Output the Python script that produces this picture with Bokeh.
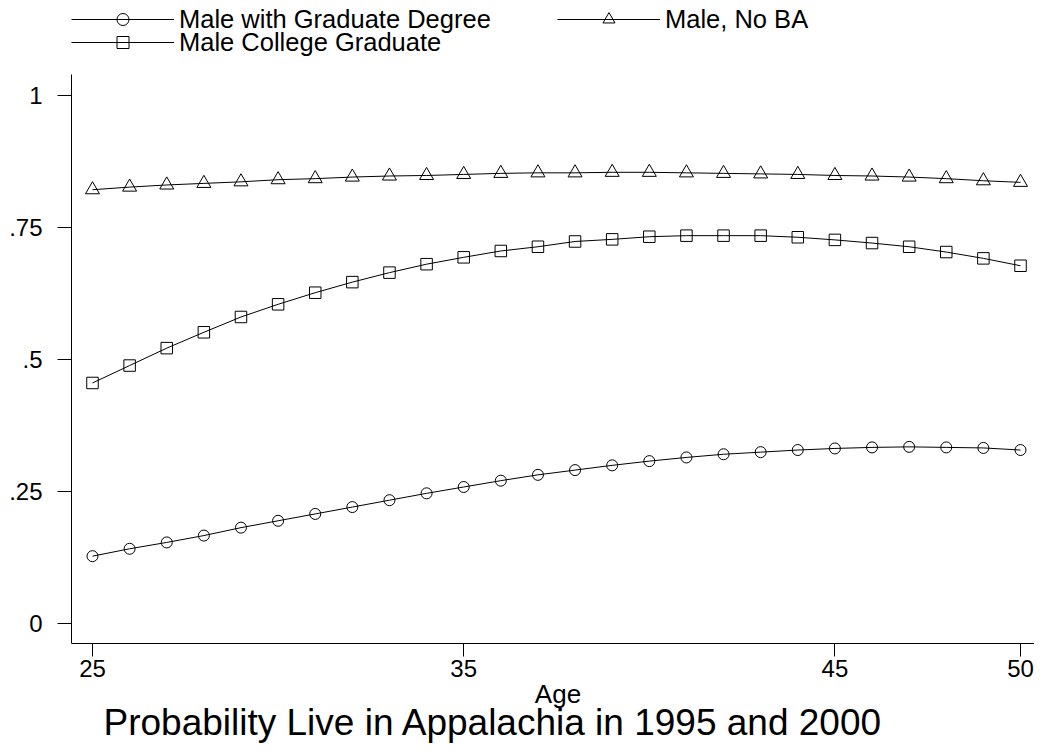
from bokeh.plotting import figure
from bokeh.models import (Range1d, FixedTicker, Legend, LegendItem, Label)
from bokeh.embed import file_html
from bokeh.resources import INLINE

# ---- data ----
ages = list(range(25, 51))
grad_degree = [0.127, 0.141, 0.153, 0.166, 0.181, 0.194, 0.207, 0.220, 0.233,
               0.246, 0.258, 0.270, 0.281, 0.290, 0.299, 0.307, 0.314, 0.320,
               0.324, 0.328, 0.331, 0.333, 0.334, 0.333, 0.332, 0.328]
college_grad = [0.455, 0.488, 0.521, 0.551, 0.580, 0.604, 0.626, 0.646, 0.664,
                0.680, 0.693, 0.705, 0.713, 0.723, 0.727, 0.732, 0.734, 0.734,
                0.734, 0.731, 0.726, 0.720, 0.713, 0.703, 0.691, 0.677]
no_ba = [0.821, 0.826, 0.830, 0.833, 0.836, 0.840, 0.842, 0.845, 0.847,
         0.848, 0.850, 0.852, 0.853, 0.853, 0.854, 0.854, 0.853, 0.852,
         0.851, 0.850, 0.848, 0.847, 0.845, 0.842, 0.838, 0.835]

series_labels = ["Male with Graduate Degree", "Male College Graduate", "Male, No BA"]
x_ticks = [25, 35, 45, 50]
y_ticks = [0, 0.25, 0.5, 0.75, 1]
y_tick_labels = ["0", ".25", ".5", ".75", "1"]
x_title = "Age"
chart_title = "Probability Live in Appalachia in 1995 and 2000"

FONT = "Liberation Sans"
W, H = 1034, 744
Y_AXIS_POS = -0.039

p = figure(width=W, height=H, output_backend="svg", toolbar_location=None,
           tools="", x_range=Range1d(24.4343, 50.377), y_range=Range1d(-0.2297, 1.1794),
           min_border_left=71, min_border_right=0, min_border_top=0, min_border_bottom=0)
p.outline_line_color = None
p.background_fill_color = "white"
p.border_fill_color = "white"
p.xgrid.visible = False
p.ygrid.visible = False

# axes
p.xaxis.ticker = FixedTicker(ticks=x_ticks)
p.xaxis.fixed_location = Y_AXIS_POS
p.yaxis.ticker = FixedTicker(ticks=y_ticks)
p.yaxis.bounds = (Y_AXIS_POS, 1.04)
p.yaxis.major_label_overrides = {t: l for t, l in zip(y_ticks, y_tick_labels)}
for ax in (p.xaxis, p.yaxis):
    ax.axis_line_color = "black"
    ax.axis_line_width = 1
    ax.major_tick_line_color = "black"
    ax.minor_tick_line_color = None
    ax.major_tick_in = 0
    ax.major_label_text_font = FONT
    ax.major_label_text_font_size = "24px"
    ax.major_label_text_color = "black"
p.xaxis.major_tick_out = 13
p.xaxis.major_label_standoff = 3
p.yaxis.major_tick_out = 14
p.yaxis.major_label_standoff = 15

# series
r_g_line = p.line(ages, grad_degree, line_color="black", line_width=1)
r_g_pt = p.scatter(ages, grad_degree, marker="circle", size=11, fill_color=None,
                   line_color="black", line_width=1)
r_c_line = p.line(ages, college_grad, line_color="black", line_width=1)
r_c_pt = p.scatter(ages, college_grad, marker="square", size=11.5, fill_color=None,
                   line_color="black", line_width=1)
r_n_line = p.line(ages, no_ba, line_color="black", line_width=1)
r_n_pt = p.scatter(ages, no_ba, marker="triangle", size=14, fill_color=None,
                   line_color="black", line_width=1)

def make_legend(label, renderers, loc):
    leg = Legend(items=[LegendItem(label=label, renderers=renderers)], location=loc,
                 padding=0, margin=0, spacing=0, border_line_color=None,
                 background_fill_alpha=0, glyph_width=103, glyph_height=30,
                 label_height=30, label_standoff=5, label_text_font=FONT,
                 label_text_font_size="25.5px", label_text_color="black")
    p.add_layout(leg, "center")

make_legend(series_labels[0], [r_g_line, r_g_pt], (0, 710))
make_legend(series_labels[1], [r_c_line, r_c_pt], (0, 687))
make_legend(series_labels[2], [r_n_line, r_n_pt], (486, 710))

p.add_layout(Label(x=486.5, y=51, x_units="screen", y_units="screen", text=x_title,
                   text_font=FONT, text_font_size="26px", text_align="center",
                   text_baseline="alphabetic", text_color="black"))
p.add_layout(Label(x=32, y=22, x_units="screen", y_units="screen", text=chart_title,
                   text_font=FONT, text_font_size="37px", text_align="left",
                   text_baseline="alphabetic", text_color="black"))

open("out.html", "w").write(file_html(p, INLINE))
